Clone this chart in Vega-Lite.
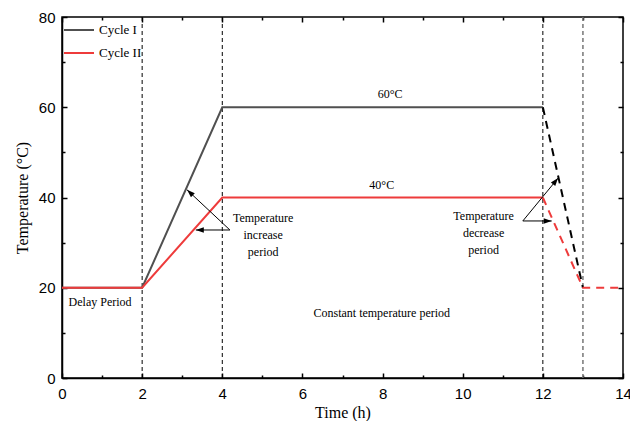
{
  "$schema": "https://vega.github.io/schema/vega-lite/v6.json",
  "width": 561,
  "height": 361,
  "autosize": "none",
  "padding": {"left": 62, "top": 17, "right": 7, "bottom": 43},
  "background": "white",
  "config": {
    "view": {"stroke": "black", "strokeWidth": 1.5},
    "axis": {
      "labelFont": "Liberation Sans",
      "labelFontSize": 15,
      "labelColor": "black",
      "titleFont": "Liberation Serif",
      "titleFontSize": 16,
      "titleFontWeight": "normal",
      "titleColor": "black",
      "domainColor": "black",
      "domainWidth": 1.5,
      "tickColor": "black",
      "tickWidth": 1.5,
      "grid": false,
      "labelFlush": false,
      "labelOverlap": false
    }
  },
  "datasets": {
    "solid": [
      {"time": 0, "temp": 20, "cycle": "Cycle I"},
      {"time": 2, "temp": 20, "cycle": "Cycle I"},
      {"time": 4, "temp": 60, "cycle": "Cycle I"},
      {"time": 12, "temp": 60, "cycle": "Cycle I"},
      {"time": 0, "temp": 20, "cycle": "Cycle II"},
      {"time": 2, "temp": 20, "cycle": "Cycle II"},
      {"time": 4, "temp": 40, "cycle": "Cycle II"},
      {"time": 12, "temp": 40, "cycle": "Cycle II"}
    ],
    "dashed": [
      {"time": 12, "temp": 60, "cycle": "Cycle I"},
      {"time": 13, "temp": 20, "cycle": "Cycle I"},
      {"time": 12, "temp": 40, "cycle": "Cycle II"},
      {"time": 13, "temp": 20, "cycle": "Cycle II"},
      {"time": 14, "temp": 20, "cycle": "Cycle II"}
    ],
    "vlines": [
      {"time": 2, "kind": "main"},
      {"time": 4, "kind": "main"},
      {"time": 12, "kind": "main"},
      {"time": 13, "kind": "end"}
    ],
    "arrows": [
      {"id": "a1", "x": 4.19, "y": 32.8, "x2": 3.12, "y2": 41.7},
      {"id": "a2", "x": 4.19, "y": 32.8, "x2": 3.34, "y2": 32.8},
      {"id": "a3", "x": 11.5, "y": 34.8, "x2": 12.38, "y2": 44.3},
      {"id": "a4", "x": 11.5, "y": 34.8, "x2": 12.22, "y2": 34.8}
    ],
    "labels": [
      {"x": 0.95, "y": 16.8, "text": "Delay Period"},
      {"x": 5.02, "y": 35.5, "text": "Temperature\nincrease\nperiod"},
      {"x": 10.52, "y": 35.9, "text": "Temperature\ndecrease\nperiod"},
      {"x": 8.19, "y": 62.9, "text": "60°C"},
      {"x": 7.98, "y": 42.8, "text": "40°C"},
      {"x": 7.98, "y": 14.4, "text": "Constant temperature  period"}
    ]
  },
  "layer": [
    {
      "data": {"name": "vlines"},
      "transform": [{"filter": "datum.kind === 'main'"}],
      "mark": {"type": "rule", "color": "black", "strokeDash": [4, 3], "strokeWidth": 1},
      "encoding": {
        "x": {"field": "time", "type": "quantitative", "scale": {"domain": [0, 14], "nice": false}, "axis": null}
      }
    },
    {
      "data": {"name": "vlines"},
      "transform": [{"filter": "datum.kind === 'end'"}],
      "mark": {"type": "rule", "color": "#777777", "strokeDash": [4, 3], "strokeWidth": 1.5},
      "encoding": {
        "x": {"field": "time", "type": "quantitative", "scale": {"domain": [0, 14], "nice": false}, "axis": null}
      }
    },
    {
      "data": {"name": "solid"},
      "mark": {"type": "line", "strokeWidth": 2},
      "encoding": {
        "x": {
          "field": "time", "type": "quantitative",
          "scale": {"domain": [0, 14], "nice": false},
          "axis": {
            "orient": "bottom",
            "title": "Time (h)",
            "values": [0,1,2,3,4,5,6,7,8,9,10,11,12,13,14],
            "labelExpr": "datum.value % 2 === 0 ? datum.label : ''",
            "tickSize": {"condition": {"test": "datum.value % 2 === 1", "value": -3}, "value": -5},
            "labelPadding": 13,
            "titlePadding": 1
          }
        },
        "y": {
          "field": "temp", "type": "quantitative",
          "scale": {"domain": [0, 80], "nice": false},
          "axis": {
            "orient": "left",
            "title": "Temperature (°C)",
            "values": [0,10,20,30,40,50,60,70,80],
            "labelExpr": "datum.value % 20 === 0 ? datum.label : ''",
            "tickSize": {"condition": {"test": "datum.value % 20 === 10", "value": -3}, "value": -5},
            "labelPadding": 12,
            "titlePadding": 8
          }
        },
        "color": {
          "field": "cycle", "type": "nominal",
          "scale": {"domain": ["Cycle I", "Cycle II"], "range": ["#505050", "#ee3b3b"]},
          "legend": {
            "orient": "none",
            "legendX": 1,
            "legendY": -3,
            "title": null,
            "symbolType": "stroke",
            "symbolSize": 900,
            "symbolStrokeWidth": 2,
            "labelFont": "Liberation Serif",
            "labelFontSize": 13,
            "labelColor": "black",
            "rowPadding": -14,
            "padding": 0
          }
        }
      }
    },
    {
      "data": {"name": "dashed"},
      "transform": [{"filter": "datum.cycle === 'Cycle I'"}],
      "mark": {"type": "line", "strokeWidth": 2, "color": "black", "strokeDash": [8, 6]},
      "encoding": {
        "x": {
          "field": "time", "type": "quantitative",
          "scale": {"domain": [0, 14], "nice": false},
          "axis": {
            "orient": "top",
            "title": null,
            "values": [0,1,2,3,4,5,6,7,8,9,10,11,12,13,14],
            "labels": false,
            "domain": false,
            "tickSize": {"condition": {"test": "datum.value % 2 === 1", "value": -3}, "value": -5}
          }
        },
        "y": {
          "field": "temp", "type": "quantitative",
          "scale": {"domain": [0, 80], "nice": false},
          "axis": {
            "orient": "right",
            "title": null,
            "values": [0,10,20,30,40,50,60,70,80],
            "labels": false,
            "domain": false,
            "tickSize": {"condition": {"test": "datum.value % 20 === 10", "value": -3}, "value": -5}
          }
        }
      }
    },
    {
      "data": {"name": "dashed"},
      "transform": [{"filter": "datum.cycle === 'Cycle II'"}],
      "mark": {"type": "line", "strokeWidth": 2, "color": "#ee3b3b", "strokeDash": [8, 6]},
      "encoding": {
        "x": {"field": "time", "type": "quantitative", "scale": {"domain": [0, 14], "nice": false}, "axis": null},
        "y": {"field": "temp", "type": "quantitative", "scale": {"domain": [0, 80], "nice": false}, "axis": null}
      }
    },
    {
      "data": {"name": "arrows"},
      "mark": {"type": "rule", "color": "black", "strokeWidth": 1},
      "encoding": {
        "x": {"field": "x", "type": "quantitative", "axis": null},
        "y": {"field": "y", "type": "quantitative", "axis": null},
        "x2": {"field": "x2"},
        "y2": {"field": "y2"}
      }
    },
    {
      "data": {"name": "arrows"},
      "transform": [{"filter": "datum.id === 'a1'"}],
      "mark": {"type": "point", "shape": "M0,0L-0.35,1L0.35,1Z", "size": 256, "filled": true, "color": "black", "opacity": 1, "angle": 313},
      "encoding": {
        "x": {"field": "x2", "type": "quantitative", "axis": null},
        "y": {"field": "y2", "type": "quantitative", "axis": null}
      }
    },
    {
      "data": {"name": "arrows"},
      "transform": [{"filter": "datum.id === 'a2'"}],
      "mark": {"type": "point", "shape": "M0,0L-0.35,1L0.35,1Z", "size": 256, "filled": true, "color": "black", "opacity": 1, "angle": 270},
      "encoding": {
        "x": {"field": "x2", "type": "quantitative", "axis": null},
        "y": {"field": "y2", "type": "quantitative", "axis": null}
      }
    },
    {
      "data": {"name": "arrows"},
      "transform": [{"filter": "datum.id === 'a3'"}],
      "mark": {"type": "point", "shape": "M0,0L-0.35,1L0.35,1Z", "size": 256, "filled": true, "color": "black", "opacity": 1, "angle": 39},
      "encoding": {
        "x": {"field": "x2", "type": "quantitative", "axis": null},
        "y": {"field": "y2", "type": "quantitative", "axis": null}
      }
    },
    {
      "data": {"name": "arrows"},
      "transform": [{"filter": "datum.id === 'a4'"}],
      "mark": {"type": "point", "shape": "M0,0L-0.35,1L0.35,1Z", "size": 256, "filled": true, "color": "black", "opacity": 1, "angle": 90},
      "encoding": {
        "x": {"field": "x2", "type": "quantitative", "axis": null},
        "y": {"field": "y2", "type": "quantitative", "axis": null}
      }
    },
    {
      "data": {"name": "labels"},
      "mark": {"type": "text", "font": "Liberation Serif", "fontSize": 12, "color": "black", "lineBreak": "\n", "lineHeight": 17, "align": "center", "baseline": "middle"},
      "encoding": {
        "x": {"field": "x", "type": "quantitative", "axis": null},
        "y": {"field": "y", "type": "quantitative", "axis": null},
        "text": {"field": "text"}
      }
    }
  ],
  "resolve": {"axis": {"x": "independent", "y": "independent"}}
}
